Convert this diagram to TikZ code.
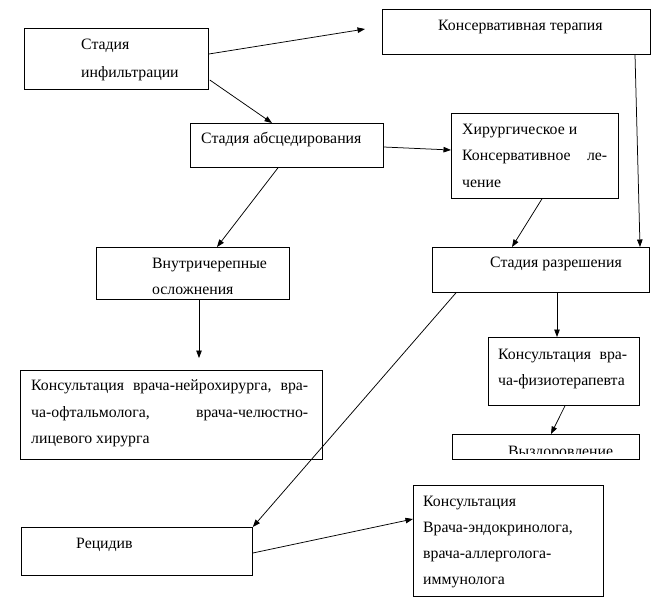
\documentclass[tikz,border=0pt]{standalone}
\usepackage{fontspec}
\setmainfont{Liberation Serif}
\usetikzlibrary{arrows.meta,calc}
\begin{document}
\begin{tikzpicture}[x=1pt,y=-1pt,
  box/.style={draw, line width=0.8pt, inner sep=0pt, anchor=north west},
  txt/.style={anchor=base west, inner sep=0pt, font=\fontsize{15.8}{18}\selectfont},
  conn/.style={line width=0.75pt, -{Triangle[length=7.5pt,width=5.5pt]}}]
\useasboundingbox[fill=white] (0,0) rectangle (660,606);
% boxes
\node[box, minimum width=184pt, minimum height=61pt] (a) at (24,28) {};
\node[box, minimum width=268pt, minimum height=45pt] (b) at (382,9) {};
\node[box, minimum width=193pt, minimum height=44pt] (c) at (190,123) {};
\node[box, minimum width=167pt, minimum height=85pt] (d) at (451,113) {};
\node[box, minimum width=193pt, minimum height=52pt] (e) at (96,247) {};
\node[box, minimum width=302pt, minimum height=89pt] (f) at (20,370) {};
\node[box, minimum width=217pt, minimum height=45pt] (g) at (432,247) {};
\node[box, minimum width=151pt, minimum height=68pt] (h) at (488,337) {};
\node[box, minimum width=187pt, minimum height=25pt] (i) at (452,434) {};
\node[box, minimum width=231pt, minimum height=48pt] (j) at (21,527) {};
\node[box, minimum width=190pt, minimum height=111pt] (k) at (413,485) {};
% texts
\node[txt] (ta1) at (81,49) {Стадия};
\node[txt] (ta2) at (81,77) {инфильтрации};
\node[txt] (tb) at (438,30) {Консервативная терапия};
\node[txt] (tc) at (201,143) {Стадия абсцедирования};
\node[txt] (td1) at (462,134) {Хирургическое и};
\node[txt] (td2) at (462,160) {\hbox to 145pt{Консервативное\hfill ле-}};
\node[txt] (td3) at (462,187) {чение};
\node[txt] (te1) at (152,268) {Внутричерепные};
\node[txt] (te2) at (152,294) {осложнения};
\node[txt] (tf1) at (31,390) {\hbox to 277pt{Консультация\hfill врача-нейрохирурга,\hfill вра-}};
\node[txt] (tf2) at (31,417) {\hbox to 277pt{ча-офтальмолога,\hfill врача-челюстно-}};
\node[txt] (tf3) at (31,443) {лицевого хирурга};
\node[txt] (tg) at (490,267) {Стадия разрешения};
\node[txt] (th1) at (498,359) {\hbox to 129pt{Консультация\hfill вра-}};
\node[txt] (th2) at (498,385) {ча-физиотерапевта};
\begin{scope}
\clip (452,434) rectangle (639,453);
\node[txt] (ti) at (508,456) {Выздоровление};
\end{scope}
\node[txt] (tj) at (76,548) {Рецидив};
\node[txt] (tk1) at (423,506) {Консультация};
\node[txt] (tk2) at (423,532) {Врача-эндокринолога,};
\node[txt] (tk3) at (423,558) {врача-аллерголога-};
\node[txt] (tk4) at (423,584) {иммунолога};
% free ends
\coordinate (bin) at ($(b.north west)+(-17,20)$);
\coordinate (fin) at ($(f.north west)+(179,-12)$);
% connectors
\draw[conn] ($(a.north east)+(0,26)$) -- (bin);
\draw[conn] ($(a.north east)+(1,52)$) -- ($(c.north west)+(82,0)$);
\draw[conn] ($(c.north east)+(0,24)$) -- ($(d.north west)+(0,37)$);
\draw[conn] ($(c.south west)+(88,0)$) -- ($(e.north west)+(121,0)$);
\draw[conn] ($(e.south west)+(103,0)$) -- (fin);
\draw[conn] ($(b.south west)+(253,0)$) -- ($(g.north west)+(208,0)$);
\draw[conn] ($(d.south west)+(91,0)$) -- ($(g.north west)+(80,0)$);
\draw[conn] ($(g.south west)+(125,0)$) -- ($(h.north west)+(69,0)$);
\draw[conn] ($(h.south west)+(77,0)$) -- ($(i.north west)+(99,0)$);
\draw[conn] ($(g.south west)+(24,0)$) -- (j.north east);
\draw[conn] ($(j.north east)+(0,26)$) -- ($(k.north west)+(0,34)$);
\end{tikzpicture}
\end{document}
